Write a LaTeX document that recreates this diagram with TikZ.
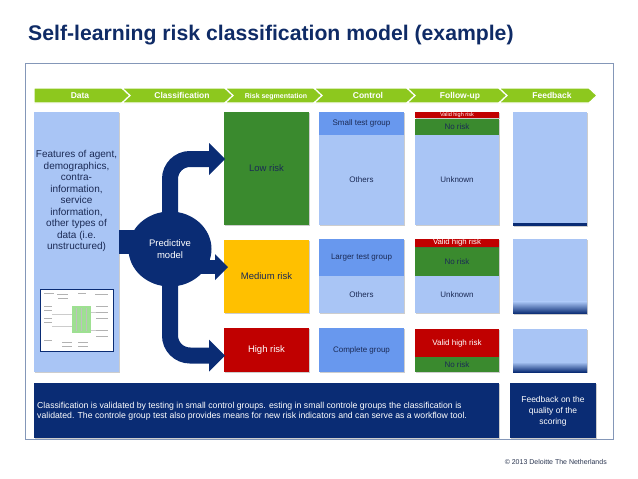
\documentclass[tikz,border=0pt]{standalone}
\usepackage{fontspec}
\setmainfont{Liberation Sans}
\usetikzlibrary{arrows.meta,shadows,calc,shapes.geometric}
\definecolor{navy}{HTML}{0A2C74}
\definecolor{titleblue}{HTML}{0F2B66}
\definecolor{framec}{HTML}{8497B8}
\definecolor{hgreen}{HTML}{8DC81E}
\definecolor{lblue}{HTML}{A9C5F5}
\definecolor{mblue}{HTML}{6898EE}
\definecolor{rgreen}{HTML}{3A8A2E}
\definecolor{ryellow}{HTML}{FFC000}
\definecolor{rred}{HTML}{C00000}
\definecolor{tdark}{HTML}{1B2A55}
\definecolor{copyc}{HTML}{2A3550}
\definecolor{thumbgreen}{HTML}{9EE092}
\tikzset{
  sh/.style={drop shadow={shadow xshift=1.3pt,shadow yshift=-1.3pt,opacity=0.28,fill=black!70}},
  cell/.style={anchor=north west,inner sep=0pt,outer sep=0pt,draw=none,align=center,text=tdark,font=\fontsize{8}{9.6}\selectfont,sh},
  hdr/.style={text=white,font=\bfseries\fontsize{8.5}{10}\selectfont,inner sep=0pt,text height=6.2pt,text depth=1.6pt},
  chev/.style={fill=hgreen,draw=white,line width=1.2pt},
  bigarrow/.style={draw=navy,line width=16pt,rounded corners=20pt,-{Triangle[length=16pt,width=32pt,line width=0pt]}},
  midarrow/.style={draw=navy,line width=14pt,-{Triangle[length=13pt,width=26pt,line width=0pt]}},
  navybox/.style={anchor=north west,inner sep=0pt,outer sep=0pt,fill=navy,sh},
  wtext/.style={text=white,inner sep=0pt,font=\fontsize{8}{10}\selectfont},
}
\begin{document}
\begin{tikzpicture}[x=1pt,y=-1pt]
\useasboundingbox (0,0) rectangle (638,479);
% title
\node[anchor=base west,text=titleblue,font=\bfseries\fontsize{21.2}{25}\selectfont,inner sep=0pt] (title) at (28,41) {Self-learning risk classification model (example)};
% frame
\node[anchor=north west,draw=framec,line width=1.3pt,minimum width=588pt,minimum height=376pt,inner sep=0pt] (frame) at (25,63) {};
% header chevrons
\path[chev] (34,88) -- (122,88) -- (130,95.5) -- (122,103) -- (34,103) -- cycle;
\path[chev] (122,88) -- (225,88) -- (233,95.5) -- (225,103) -- (122,103) -- (130,95.5) -- cycle;
\path[chev] (225,88) -- (314,88) -- (322,95.5) -- (314,103) -- (225,103) -- (233,95.5) -- cycle;
\path[chev] (314,88) -- (407,88) -- (415,95.5) -- (407,103) -- (314,103) -- (322,95.5) -- cycle;
\path[chev] (407,88) -- (499,88) -- (507,95.5) -- (499,103) -- (407,103) -- (415,95.5) -- cycle;
\path[chev] (499,88) -- (589,88) -- (597,95.5) -- (589,103) -- (499,103) -- (507,95.5) -- cycle;
\node[hdr] (hdata) at (80,95.8) {Data};
\node[hdr] (hclass) at (182,95.8) {Classification};
\node[hdr,font=\bfseries\fontsize{7}{8}\selectfont] (hseg) at (276,95.8) {Risk segmentation};
\node[hdr] (hctrl) at (368,95.8) {Control};
\node[hdr] (hfollow) at (460,95.8) {Follow-up};
\node[hdr] (hfeed) at (552,95.8) {Feedback};
% data column
\node[cell,fill=lblue,minimum width=85pt,minimum height=260pt] (data) at (34,112) {};
\node[text=tdark,align=center,inner sep=0pt,font=\fontsize{10}{11.5}\selectfont] (datatext) at (76.5,201) {Features of agent,\\demographics,\\contra-\\information,\\service\\information,\\other types of\\data (i.e.\\unstructured)};
% thumbnail
\node[anchor=north west,draw=navy,line width=1.2pt,fill=white,minimum width=73pt,minimum height=62pt,inner sep=0pt] (thumb) at (40,289) {};
\fill[thumbgreen] (72,306) rectangle (91,333);
\draw[black!25,line width=0.6pt] (76,308) -- (76,331) (81,308) -- (81,331) (86,308) -- (86,331);
\draw[black!30,line width=0.8pt]
  (44,293) -- (54,293) (57,294) -- (68,294) (78,293) -- (86,293) (95,294) -- (108,294)
  (58,298) -- (68,298) (44,306) -- (52,306) (44,310) -- (52,310) (44,318) -- (52,318)
  (44,322) -- (52,322) (96,306) -- (108,306) (96,312) -- (108,312) (96,318) -- (108,318)
  (96,330) -- (108,330) (96,336) -- (108,336) (44,340) -- (52,340) (62,342) -- (72,342)
  (78,342) -- (88,342) (62,346) -- (72,346) (78,346) -- (88,346);
\draw[black!20,line width=0.4pt] (52,314) -- (72,314) (52,326) -- (72,326) (91,312) -- (96,312) (91,330) -- (96,330);
% risk segmentation
\node[cell,fill=rgreen,minimum width=85pt,minimum height=113pt,font=\fontsize{9.5}{11}\selectfont] (low) at (224,112) {Low risk};
\node[cell,fill=ryellow,minimum width=85pt,minimum height=73pt,font=\fontsize{9.5}{11}\selectfont] (med) at (224,240) {Medium risk};
\node[cell,fill=rred,minimum width=85pt,minimum height=44pt,font=\fontsize{9.5}{11}\selectfont,text=white] (high) at (224,328) {High risk};
% control
\node[cell,fill=mblue,minimum width=85pt,minimum height=23pt] (c1a) at (319,112) {Small test group};
\node[cell,fill=lblue,minimum width=85pt,minimum height=90pt] (c1b) at (319,135) {Others};
\node[cell,fill=mblue,minimum width=85pt,minimum height=36.5pt] (c2a) at (319,239) {Larger test group};
\node[cell,fill=lblue,minimum width=85pt,minimum height=37.5pt] (c2b) at (319,275.5) {Others};
\node[cell,fill=mblue,minimum width=85pt,minimum height=44pt] (c3) at (319,328) {Complete group};
% follow-up
\node[cell,fill=rred,minimum width=84pt,minimum height=5.5pt,text=white,font=\fontsize{5.5}{5.5}\selectfont] (f1a) at (415,112) {Valid high risk};
\node[cell,fill=rgreen,minimum width=84pt,minimum height=16pt] (f1b) at (415,119) {No risk};
\node[cell,fill=lblue,minimum width=84pt,minimum height=90pt] (f1c) at (415,135) {Unknown};
\node[cell,fill=rgreen,minimum width=84pt,minimum height=28.5pt] (f2b) at (415,247) {No risk};
\node[cell,fill=rred,minimum width=84pt,minimum height=8.5pt,text=white,font=\fontsize{7.8}{8}\selectfont] (f2a) at (415,238.5) {Valid high risk};
\node[cell,fill=lblue,minimum width=84pt,minimum height=37.5pt] (f2c) at (415,275.5) {Unknown};
\node[cell,fill=rred,minimum width=84pt,minimum height=28pt,text=white] (f3a) at (415,329) {Valid high risk};
\node[cell,fill=rgreen,minimum width=84pt,minimum height=15pt] (f3b) at (415,357) {No risk};
% feedback
\node[cell,fill=lblue,minimum width=74pt,minimum height=113.5pt] (fb1) at (513,112) {};
\fill[navy] ($(fb1.south west)+(0,-2.5)$) rectangle (fb1.south east);
\node[cell,fill=lblue,minimum width=74pt,minimum height=75pt] (fb2) at (513,238.5) {};
\shade[top color=lblue,bottom color=navy] ($(fb2.south west)+(0,-12)$) rectangle (fb2.south east);
\node[cell,fill=lblue,minimum width=74pt,minimum height=43pt] (fb3) at (513,329) {};
\shade[top color=lblue,bottom color=navy] ($(fb3.south west)+(0,-10)$) rectangle (fb3.south east);
% predictive model and arrows
\coordinate (pmc) at (170,249);
\coordinate (tlow) at ($(low.west)+(1,-9.5)$);
\coordinate (tmed) at ($(med.west)+(4,-9.5)$);
\coordinate (thigh) at ($(high.west)+(1,5.5)$);
\draw[bigarrow] (pmc) |- (tlow);
\draw[bigarrow] (pmc) |- (thigh);
\draw[midarrow] (pmc |- tmed) -- (tmed);
\draw[draw=navy,line width=24pt] (data.east) -- (pmc |- data.east);
\node[ellipse,fill=navy,minimum width=83pt,minimum height=75pt,inner sep=0pt,text=white,align=center,font=\fontsize{9.5}{11.6}\selectfont] (pm) at (pmc) {Predictive\\model};
% bottom boxes
\node[navybox,minimum width=465pt,minimum height=55pt] (bottom) at (34,383) {};
\node[wtext,anchor=west,align=left,font=\fontsize{8.7}{10.2}\selectfont] (bottomtext) at (37,411) {Classification is validated by testing in small control groups. esting in small controle groups the classification is\\validated. The controle group test also provides means for new risk indicators and can serve as a workflow tool.};
\node[navybox,minimum width=86pt,minimum height=55pt] (fbbox) at (510,383) {};
\node[wtext,align=center,font=\fontsize{8.5}{10.8}\selectfont] (fbtext) at (553,411) {Feedback on the\\quality of the\\scoring};
% copyright
\node[anchor=base east,font=\fontsize{7}{8}\selectfont,text=copyc,inner sep=0pt] (copy) at (607,464) {© 2013 Deloitte The Netherlands};
\end{tikzpicture}
\end{document}
